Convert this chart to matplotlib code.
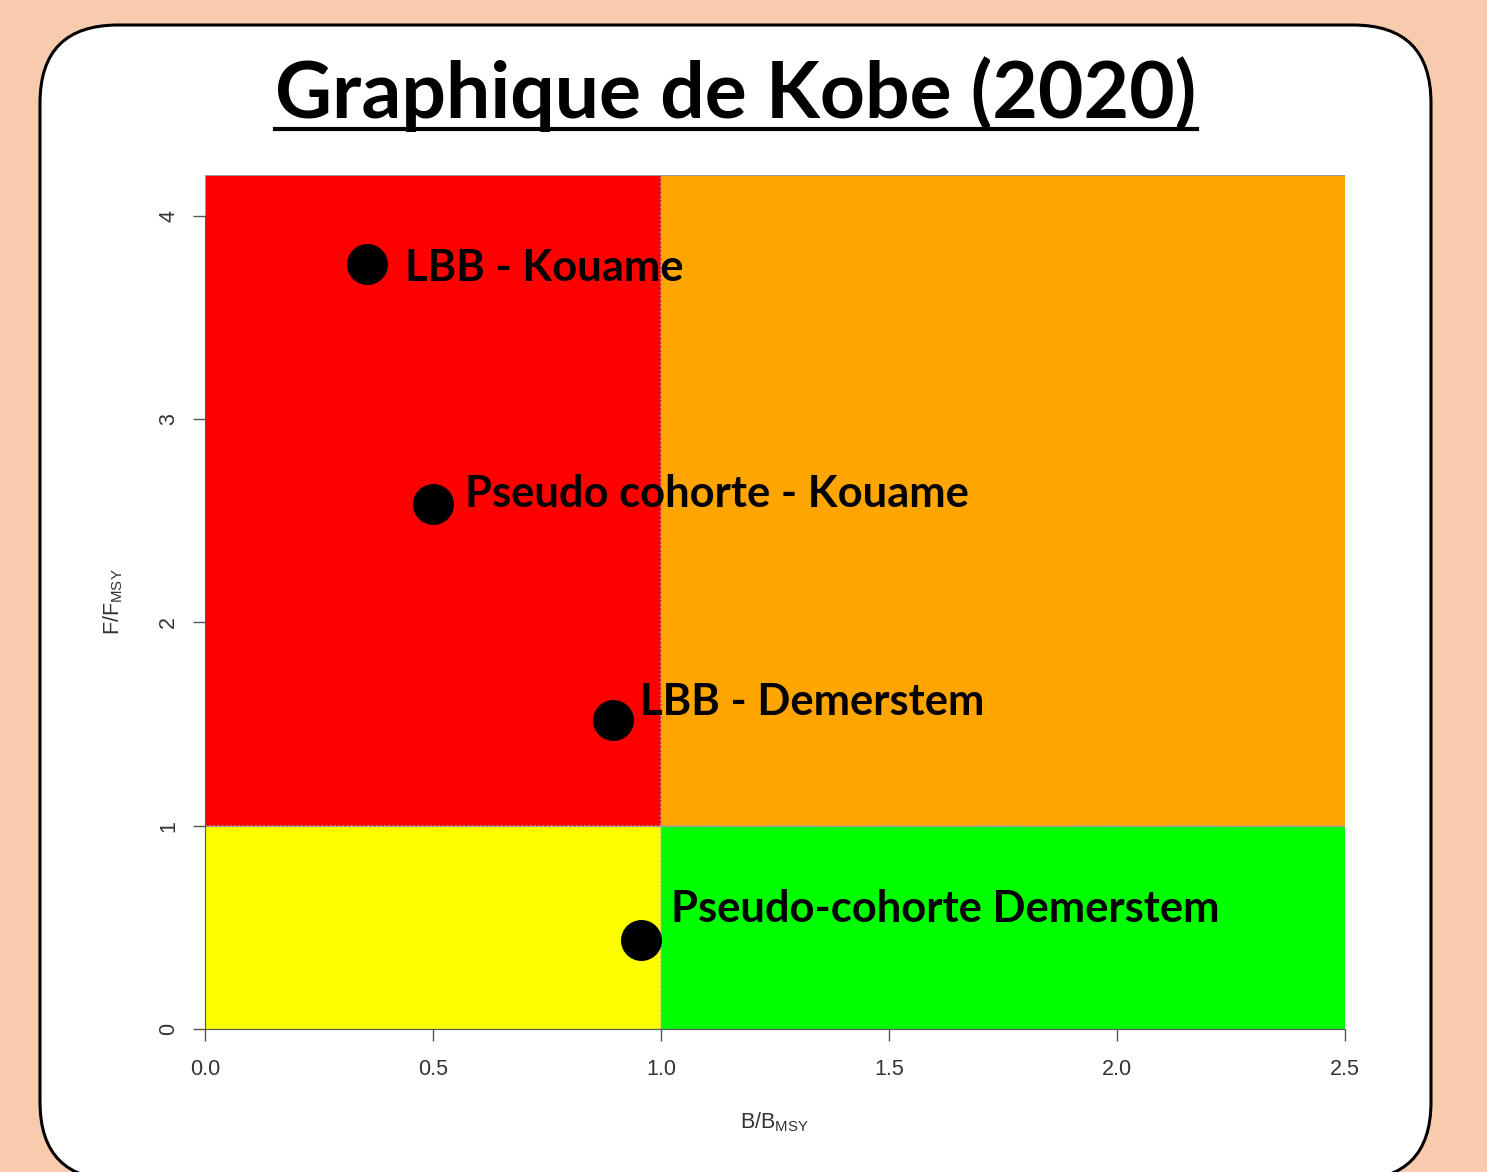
import matplotlib
matplotlib.use("Agg")
import matplotlib.pyplot as plt
from matplotlib.patches import Rectangle, FancyBboxPatch
from matplotlib.lines import Line2D

# ---- data ----
labels = ["LBB - Kouame", "Pseudo cohorte - Kouame", "LBB - Demerstem", "Pseudo-cohorte Demerstem"]
b_bmsy = [0.355, 0.50, 0.895, 0.956]
f_fmsy = [3.76, 2.58, 1.52, 0.44]
label_x = [0.438, 0.570, 0.954, 1.022]
label_y = [3.744, 2.632, 1.609, 0.590]
x_ticks = [0.0, 0.5, 1.0, 1.5, 2.0, 2.5]
x_ticklabels = ["0.0", "0.5", "1.0", "1.5", "2.0", "2.5"]
y_ticks = [0, 1, 2, 3, 4]
y_ticklabels = ["0", "1", "2", "3", "4"]
title = "Graphique de Kobe (2020)"

W, H, DPI = 1487, 1172, 100
fig = plt.figure(figsize=(W / DPI, H / DPI), dpi=DPI)
fig.patch.set_facecolor("#F8CBAD")

box = FancyBboxPatch((0.40, -0.08), 13.91, 11.55,
                     boxstyle="round,pad=0,rounding_size=0.78",
                     transform=fig.dpi_scale_trans, facecolor="white",
                     edgecolor="black", linewidth=2.2, zorder=0)
fig.patches.append(box)

ax = fig.add_axes([205 / W, 1 - 1029 / H, (1345 - 205) / W, (1029 - 175) / H])
ax.set_zorder(5)
ax.set_xlim(0, 2.5)
ax.set_ylim(0, 4.2)
ax.patch.set_alpha(0)

quads = [((0, 1), 1, 3.2, "#FF0000"), ((1, 1), 1.5, 3.2, "#FFA500"),
         ((0, 0), 1, 1, "#FFFF00"), ((1, 0), 1.5, 1, "#00FF00")]
for (xy, w, h, c) in quads:
    ax.add_patch(Rectangle(xy, w, h, facecolor=c, edgecolor="#999999", linewidth=0.8, zorder=1))
ax.axvline(1, color="#aaaaaa", linestyle=(0, (1, 1.5)), linewidth=1.2, zorder=2)
ax.axhline(1, color="#aaaaaa", linestyle=(0, (1, 1.5)), linewidth=1.2, zorder=2)

ax.plot(b_bmsy, f_fmsy, "o", color="black", markersize=28.5, zorder=3)
for lx, ly, t in zip(label_x, label_y, labels):
    ax.text(lx, ly, t, fontfamily="Lato", fontweight="bold", fontsize=31.3,
            ha="left", va="center", color="black", zorder=4)

for s in ax.spines.values():
    s.set_visible(False)
ax.spines["left"].set_visible(True)
ax.spines["bottom"].set_visible(True)
ax.spines["left"].set_bounds(0, 4)
ax.spines["bottom"].set_bounds(0, 2.5)
ax.spines["left"].set_color("#555555")
ax.spines["bottom"].set_color("#555555")

ax.set_xticks(x_ticks)
ax.set_xticklabels(x_ticklabels)
ax.set_yticks(y_ticks)
ax.set_yticklabels(y_ticklabels, rotation=90, va="center")
ax.tick_params(axis="both", length=8.6, width=1, color="#555555", labelcolor="#333333",
               labelsize=15.5)
ax.tick_params(axis="x", pad=13)
ax.tick_params(axis="y", pad=10)
for lab in ax.get_xticklabels() + ax.get_yticklabels():
    lab.set_fontfamily("Liberation Sans")

ax.set_xlabel(r"B/B$_{\mathregular{MSY}}$", fontsize=15.5, color="#333333",
              fontfamily="Liberation Sans", labelpad=22)
ax.set_ylabel(r"F/F$_{\mathregular{MSY}}$", fontsize=15.5, color="#333333",
              fontfamily="Liberation Sans", labelpad=24)

t = fig.text(736 / W, 1 - 118 / H, title, fontfamily="Lato", fontweight="bold",
             fontsize=56.6, ha="center", va="baseline", color="black")
fig.canvas.draw()
bb = t.get_window_extent(fig.canvas.get_renderer())
fig.add_artist(Line2D([bb.x0 / W, bb.x1 / W], [1 - 129 / H, 1 - 129 / H],
                      transform=fig.transFigure, color="black", linewidth=3))

fig.savefig("out.png", dpi=DPI, facecolor=fig.get_facecolor())
